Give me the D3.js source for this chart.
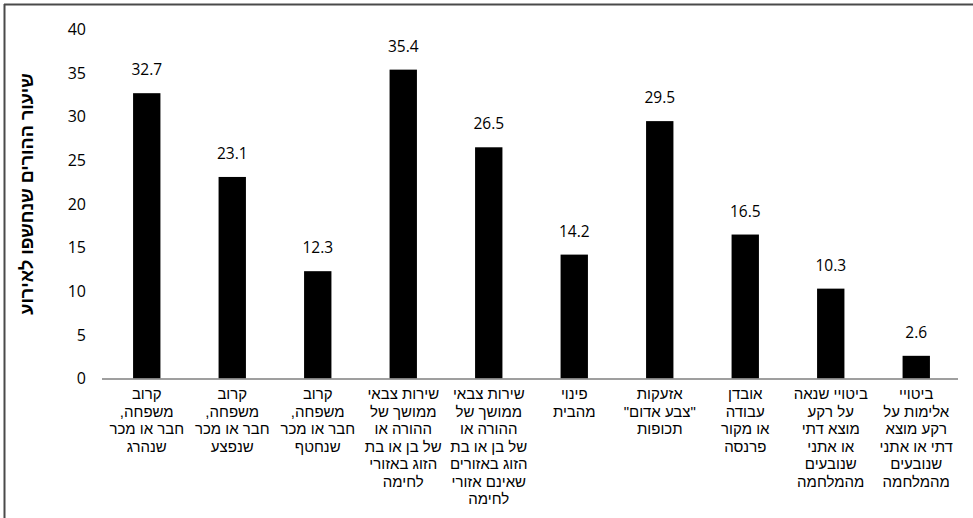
<!DOCTYPE html>
<html>
<head>
<meta charset="utf-8">
<script src="https://cdn.jsdelivr.net/npm/d3@7"></script>
<style>
  html, body { margin: 0; padding: 0; background: #fff; }
  svg { display: block; }
</style>
</head>
<body>
<svg id="chart" width="973" height="518"></svg>
<script>
const categories = [
  "קרוב\nמשפחה,\nחבר או מכר\nשנהרג",
  "קרוב\nמשפחה,\nחבר או מכר\nשנפצע",
  "קרוב\nמשפחה,\nחבר או מכר\nשנחטף",
  "שירות צבאי\nממושך של\nההורה או\nשל בן או בת\nהזוג באזורי\nלחימה",
  "שירות צבאי\nממושך של\nההורה או\nשל בן או בת\nהזוג באזורים\nשאינם אזורי\nלחימה",
  "פינוי\nמהבית",
  "אזעקות\n\"צבע אדום\"\nתכופות",
  "אובדן\nעבודה\nאו מקור\nפרנסה",
  "ביטויי שנאה\nעל רקע\nמוצא דתי\nאו אתני\nשנובעים\nמהמלחמה",
  "ביטויי\nאלימות על\nרקע מוצא\nדתי או אתני\nשנובעים\nמהמלחמה"
];
const values = [32.7, 23.1, 12.3, 35.4, 26.5, 14.2, 29.5, 16.5, 10.3, 2.6];
const yTicks = [0, 5, 10, 15, 20, 25, 30, 35, 40];
const yTitle = "שיעור ההורים שנחשפו לאירוע";

const svg = d3.select("#chart");
const W = 973, H = 518;

// frame (top and left edges visible)
svg.append("line").attr("x1", 4).attr("y1", 4.5).attr("x2", W).attr("y2", 4.5)
  .attr("stroke", "#4a4a4a").attr("stroke-width", 2);
svg.append("line").attr("x1", 4.5).attr("y1", 4).attr("x2", 4.5).attr("y2", H)
  .attr("stroke", "#4a4a4a").attr("stroke-width", 2);

const x = d3.scaleBand().domain(d3.range(categories.length))
  .range([104, 959]).paddingInner(0.68).paddingOuter(0.34);
const y = d3.scaleLinear().domain([0, 40]).range([378.5, 29.5]);

// y tick labels
const yAxis = d3.axisLeft(y).tickValues(yTicks).tickSize(0).tickPadding(0);
const gy = svg.append("g").attr("transform", "translate(86,0)").call(yAxis);
gy.select(".domain").remove();
gy.selectAll("text")
  .attr("font-family", "'Open Sans', sans-serif")
  .attr("font-size", 16)
  .attr("fill", "#000");

// bars
svg.append("g").selectAll("rect").data(values).join("rect")
  .attr("x", (d, i) => x(i))
  .attr("y", d => y(d))
  .attr("width", x.bandwidth())
  .attr("height", d => y(0) - y(d))
  .attr("fill", "#000");

// value labels
svg.append("g").selectAll("text").data(values).join("text")
  .attr("x", (d, i) => x(i) + x.bandwidth() / 2)
  .attr("y", d => y(d) - 18)
  .attr("text-anchor", "middle")
  .attr("font-family", "'Open Sans', sans-serif")
  .attr("font-size", 15.5)
  .attr("fill", "#000")
  .text(d => d.toFixed(1));

// x axis line
svg.append("line").attr("x1", 102).attr("x2", 958)
  .attr("y1", y(0) + 0.5).attr("y2", y(0) + 0.5)
  .attr("stroke", "#7f7f7f").attr("stroke-width", 1.5);

// category labels
const gx = svg.append("g");
categories.forEach((c, i) => {
  const t = gx.append("text")
    .attr("x", x(i) + x.bandwidth() / 2)
    .attr("y", 399)
    .attr("text-anchor", "middle")
    .attr("direction", "rtl")
    .attr("font-family", "'Liberation Sans', Arial, sans-serif")
    .attr("font-size", 15)
    .attr("fill", "#000");
  c.split("\n").forEach((line, k) => {
    t.append("tspan")
      .attr("x", x(i) + x.bandwidth() / 2)
      .attr("dy", k === 0 ? 0 : 17.5)
      .text(line);
  });
});

// y axis title
svg.append("text")
  .attr("transform", "translate(33,194) rotate(-90)")
  .attr("text-anchor", "middle")
  .attr("direction", "rtl")
  .attr("font-family", "'Liberation Sans', Arial, sans-serif")
  .attr("font-weight", "bold")
  .attr("font-size", 18)
  .attr("fill", "#000")
  .text(yTitle);
</script>
</body>
</html>
